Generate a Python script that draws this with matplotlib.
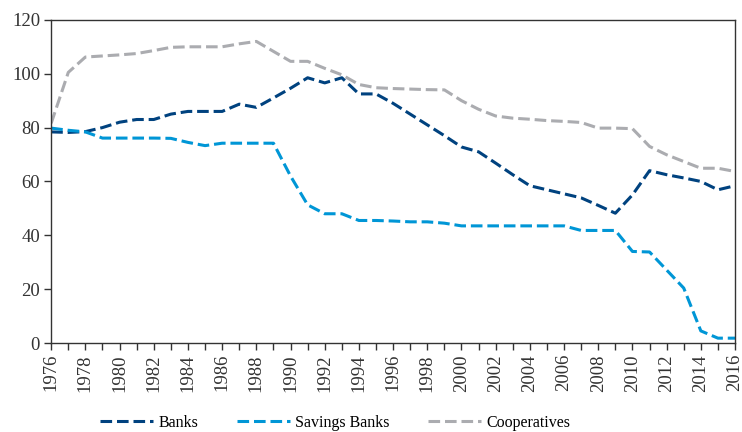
import matplotlib.pyplot as plt

years = list(range(1976, 2017))

banks = [78.4, 78.2, 78.5, 80.0, 82.0, 83.0, 83.0, 85.0, 86.0, 86.0, 86.0, 88.7, 87.5,
         91.0, 94.6, 98.5, 96.6, 98.5, 92.5, 92.5, 89.0, 85.0, 81.0, 77.0, 72.8, 71.0,
         66.8, 62.5, 58.4, 56.9, 55.4, 53.9, 51.1, 48.2, 55.0, 64.0, 62.5, 61.3, 60.0,
         56.9, 58.4]
savings = [79.8, 79.0, 78.4, 76.1, 76.1, 76.1, 76.1, 76.0, 74.5, 73.3, 74.2, 74.2, 74.2,
           74.2, 62.0, 51.3, 48.0, 48.0, 45.5, 45.5, 45.3, 45.0, 45.0, 44.5, 43.5, 43.5,
           43.5, 43.5, 43.5, 43.5, 43.5, 41.8, 41.8, 41.8, 34.0, 33.8, 27.1, 20.4, 4.5,
           1.8, 1.8]
coops = [81.6, 100.5, 106.2, 106.6, 107.0, 107.5, 108.6, 109.8, 110.0, 110.0, 110.0, 111.1,
         112.0, 108.3, 104.6, 104.6, 102.0, 99.6, 96.0, 94.8, 94.5, 94.3, 94.1, 94.0, 90.0,
         86.8, 84.3, 83.5, 83.1, 82.6, 82.3, 81.9, 79.8, 79.8, 79.6, 73.0, 69.9, 67.4,
         64.9, 64.9, 63.7]

series = [
    ("Banks", banks, "#00427f"),
    ("Savings Banks", savings, "#0096d6"),
    ("Cooperatives", coops, "#abacb0"),
]

plt.rcParams["font.family"] = ["Liberation Serif", "DejaVu Serif"]

fig = plt.figure(figsize=(7.42, 4.32), dpi=100)
ax = fig.add_axes([0.069, 0.206, 0.9216, 0.748])

for name, vals, col in series:
    ax.plot(years, vals, color=col, lw=2.2, dashes=(3.8, 1.6), label=name)

ax.set_xlim(1976, 2016)
ax.set_ylim(0, 120)
ax.set_yticks(range(0, 121, 20))
ax.set_xticks(years, minor=True)
ax.set_xticks(range(1976, 2017, 2))
ax.tick_params(axis="x", which="both", rotation=90, length=5, width=1, colors="#333333",
               labelsize=13.5, pad=3)
ax.tick_params(axis="x", which="minor", labelbottom=False)
ax.tick_params(axis="y", length=5, width=1, colors="#333333", labelsize=13.5, pad=3)
for s in ax.spines.values():
    s.set_color("#333333")
    s.set_linewidth(1)

fig.legend(loc="lower center", bbox_to_anchor=(0.452, -0.03), ncol=3, frameon=False,
           fontsize=11.5, handlelength=3.3, handletextpad=0.35, columnspacing=2.4)

fig.savefig("out.png", dpi=100)
